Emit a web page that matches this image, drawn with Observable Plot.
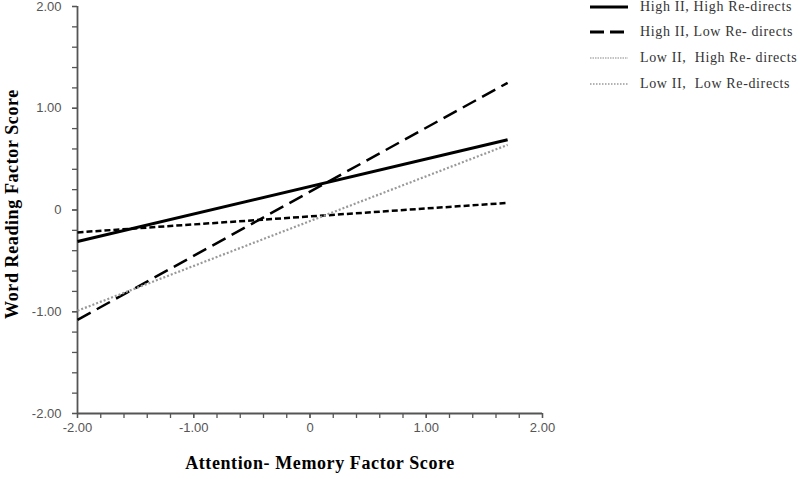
<!DOCTYPE html>
<html>
<head>
<meta charset="utf-8">
<script src="https://cdn.jsdelivr.net/npm/d3@7"></script>
<script src="https://cdn.jsdelivr.net/npm/@observablehq/plot@0.6"></script>
<style>
  body { margin: 0; background: #fff; }
  #wrap { position: relative; width: 800px; height: 479px; overflow: hidden; }
  #legend { position: absolute; left: 589px; top: 0px; width: 211px; font-family: "Liberation Serif", serif; font-size: 14px; color: #333; }
  .row { position: absolute; left: 0; height: 20px; display: flex; align-items: center; white-space: nowrap; }
  .row svg { margin-right: 11px; flex: none; }
  .row span { flex: none; }
  .axtitle { letter-spacing: 0.6px; }
</style>
</head>
<body>
<div id="wrap"><div id="legend"></div></div>
<script>
// Data
const xValues = [-2.0, 1.7];
const highIIHighRe = [-0.31, 0.69];
const highIILowRe = [-1.08, 1.25];
const lowIIHighRe = [-0.22, 0.07];
const lowIILowRe = [-0.99, 0.64];
const seriesNames = [
  "High II, High Re-directs",
  "High II, Low Re- directs",
  "Low II,  High Re- directs",
  "Low II,  Low Re-directs"
];
const xTicks = [-2, -1, 0, 1, 2];
const xTickLabels = ["-2.00", "-1.00", "0", "1.00", "2.00"];
const yTicks = [-2, -1, 0, 1, 2];
const yTickLabels = ["-2.00", "-1.00", "0", "1.00", "2.00"];
const xTitle = "Attention- Memory Factor Score";
const yTitle = "Word Reading Factor Score";

const seriesValues = [highIIHighRe, highIILowRe, lowIIHighRe, lowIILowRe];
const styles = [
  {stroke: "#000", strokeWidth: 3, dash: null},
  {stroke: "#000", strokeWidth: 2.5, dash: "15,7"},
  {stroke: "#000", strokeWidth: 2.5, dash: "6,3"},
  {stroke: "#999", strokeWidth: 2.2, dash: "2,2"}
];
const legendStyles = [
  {stroke: "#000", strokeWidth: 3, dash: null},
  {stroke: "#000", strokeWidth: 3, dash: "14,6"},
  {stroke: "#888", strokeWidth: 1.2, dash: "1.5,1"},
  {stroke: "#999", strokeWidth: 1.6, dash: "1.5,1.5"}
];

const minor = d3.range(-2, 2.0001, 0.2).map(v => Math.round(v * 10) / 10);

const lineMarks = seriesValues.map((vals, i) => {
  const rows = xValues.map((x, j) => ({x, y: vals[j]}));
  const s = styles[i];
  return Plot.line(rows, {x: "x", y: "y", stroke: s.stroke, strokeWidth: s.strokeWidth,
    strokeDasharray: s.dash || undefined, strokeLinecap: "butt"});
});

const chart = Plot.plot({
  width: 800,
  height: 479,
  marginLeft: 77,
  marginRight: 258,
  marginTop: 6,
  marginBottom: 66,
  style: {fontFamily: "Liberation Sans, Arial, sans-serif", fontSize: "13px", background: "#fff"},
  x: {domain: [-2, 2]},
  y: {domain: [-2, 2]},
  marks: [
    Plot.axisY(minor, {tickSize: 5, tickFormat: () => "", color: "#555", strokeWidth: 1.3, label: null}),
    Plot.axisY(yTicks, {tickSize: 5, tickPadding: 11, fontSize: 13, tickFormat: d => yTickLabels[yTicks.indexOf(d)], color: "#555", strokeWidth: 1.3, label: null}),
    Plot.axisX(minor, {tickSize: 5, tickFormat: () => "", color: "#555", strokeWidth: 1.3, label: null}),
    Plot.axisX(xTicks, {tickSize: 5, tickPadding: 4, fontSize: 13, tickFormat: d => xTickLabels[xTicks.indexOf(d)], color: "#555", strokeWidth: 1.3, label: null}),
    Plot.ruleX([-2], {stroke: "#555", strokeWidth: 1.8}),
    Plot.ruleY([-2], {stroke: "#555", strokeWidth: 1.8}),
    ...lineMarks,
    Plot.text([xTitle], {frameAnchor: "bottom", dx: 10, dy: 55, textAnchor: "middle", fontFamily: "Liberation Serif, serif", fontWeight: "bold", fontSize: 18, fill: "#000", className: "axtitle"}),
    Plot.text([yTitle], {frameAnchor: "left", dx: -65, dy: -6, rotate: -90, textAnchor: "middle", fontFamily: "Liberation Serif, serif", fontWeight: "bold", fontSize: 18, fill: "#000", className: "axtitle"})
  ]
});
document.getElementById("wrap").prepend(chart);

// Legend
const legend = document.getElementById("legend");
const rowTops = [-3, 22, 48, 74];
const spans = [];
seriesNames.forEach((name, i) => {
  const s = legendStyles[i];
  const row = document.createElement("div");
  row.className = "row";
  row.style.top = rowTops[i] + "px";
  const svg = d3.create("svg").attr("width", 40).attr("height", 10);
  svg.append("line").attr("x1", 1).attr("x2", 39).attr("y1", 5).attr("y2", 5)
    .attr("stroke", s.stroke).attr("stroke-width", s.strokeWidth)
    .attr("stroke-dasharray", s.dash);
  row.appendChild(svg.node());
  const span = document.createElement("span");
  span.textContent = name;
  span.style.whiteSpace = "pre";
  row.appendChild(span);
  legend.appendChild(row);
  spans.push(span);
});
// fit first label to the reference's width (~152px)
const w0 = spans[0].getBoundingClientRect().width;
const ls = Math.max(0, Math.min(1.2, (152 - w0) / seriesNames[0].length));
legend.style.letterSpacing = ls + "px";
</script>
</body>
</html>
